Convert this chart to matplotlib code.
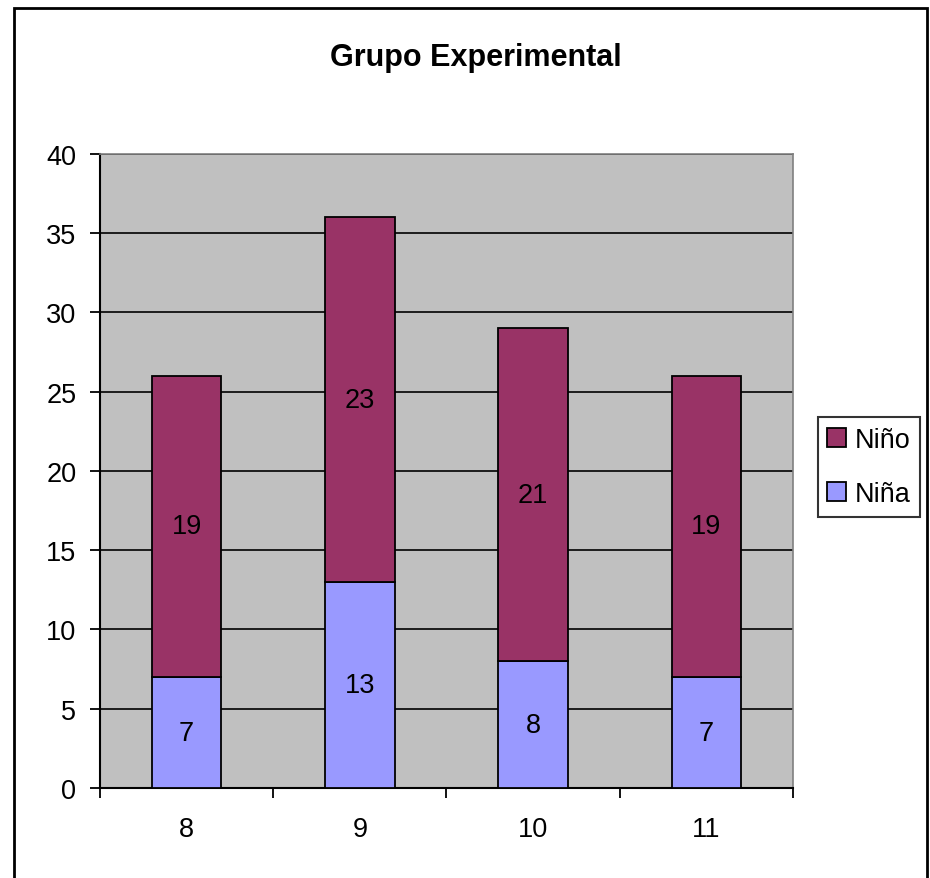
import matplotlib.pyplot as plt
from matplotlib.patches import Rectangle
import numpy as np

plt.rcParams['font.family'] = ['Liberation Sans', 'DejaVu Sans']

categorias = ['8', '9', '10', '11']
nina = [7, 13, 8, 7]
nino = [19, 23, 21, 19]

fs = 19.5

fig = plt.figure(figsize=(9.3, 8.79), dpi=100)
ax = fig.add_axes([0.1075, 0.1024, 0.7452, 0.7213])
ax.set_facecolor('#C0C0C0')

x = np.arange(len(categorias))
b1 = ax.bar(x, nina, width=0.4, color='#9999FF', edgecolor='black', linewidth=1.3, label='Niña', zorder=3)
b2 = ax.bar(x, nino, width=0.4, bottom=nina, color='#993366', edgecolor='black', linewidth=1.3, label='Niño', zorder=3)

for i in range(len(categorias)):
    ax.text(x[i], nina[i] / 2, str(nina[i]), ha='center', va='center', fontsize=fs, zorder=4)
    ax.text(x[i], nina[i] + nino[i] / 2, str(nino[i]), ha='center', va='center', fontsize=fs, zorder=4)

ax.set_xlim(-0.5, len(categorias) - 0.5)
ax.set_ylim(0, 40)
ax.set_yticks(range(0, 41, 5))
ax.yaxis.grid(True, color='black', linewidth=1.2, zorder=1)
ax.set_axisbelow(True)

ax.set_xticks(x)
ax.set_xticklabels(categorias, fontsize=fs)
ax.set_xticks(np.arange(-0.5, len(categorias), 1), minor=True)
ax.tick_params(axis='x', which='major', length=0, pad=20)
ax.tick_params(axis='x', which='minor', length=7, width=1.3, direction='out')
ax.tick_params(axis='y', length=7, width=1.3, labelsize=fs, pad=10)

for s in ['left', 'bottom']:
    ax.spines[s].set_color('black')
    ax.spines[s].set_linewidth(1.5)
for s in ['top', 'right']:
    ax.spines[s].set_color('#808080')
    ax.spines[s].set_linewidth(1.2)

fig.text(476 / 930, 1 - 58 / 879, 'Grupo Experimental', fontsize=22,
         fontweight='bold', ha='center', va='center')

handles = [b2, b1]
leg = fig.legend(handles, ['Niño', 'Niña'], loc='center left',
                 bbox_to_anchor=(818 / 930, 1 - 468 / 879), fontsize=fs,
                 frameon=True, fancybox=False, edgecolor='black',
                 handlelength=0.7, handleheight=0.7, handletextpad=0.3,
                 labelspacing=1.05, borderpad=0.35, borderaxespad=0)
leg.get_frame().set_linewidth(1.5)

fig.patches.append(Rectangle((14 / 930, -0.01), 913 / 930, 1.01 - 9 / 879,
                             transform=fig.transFigure, fill=False,
                             edgecolor='black', linewidth=2))

fig.savefig('out.png', dpi=100)
